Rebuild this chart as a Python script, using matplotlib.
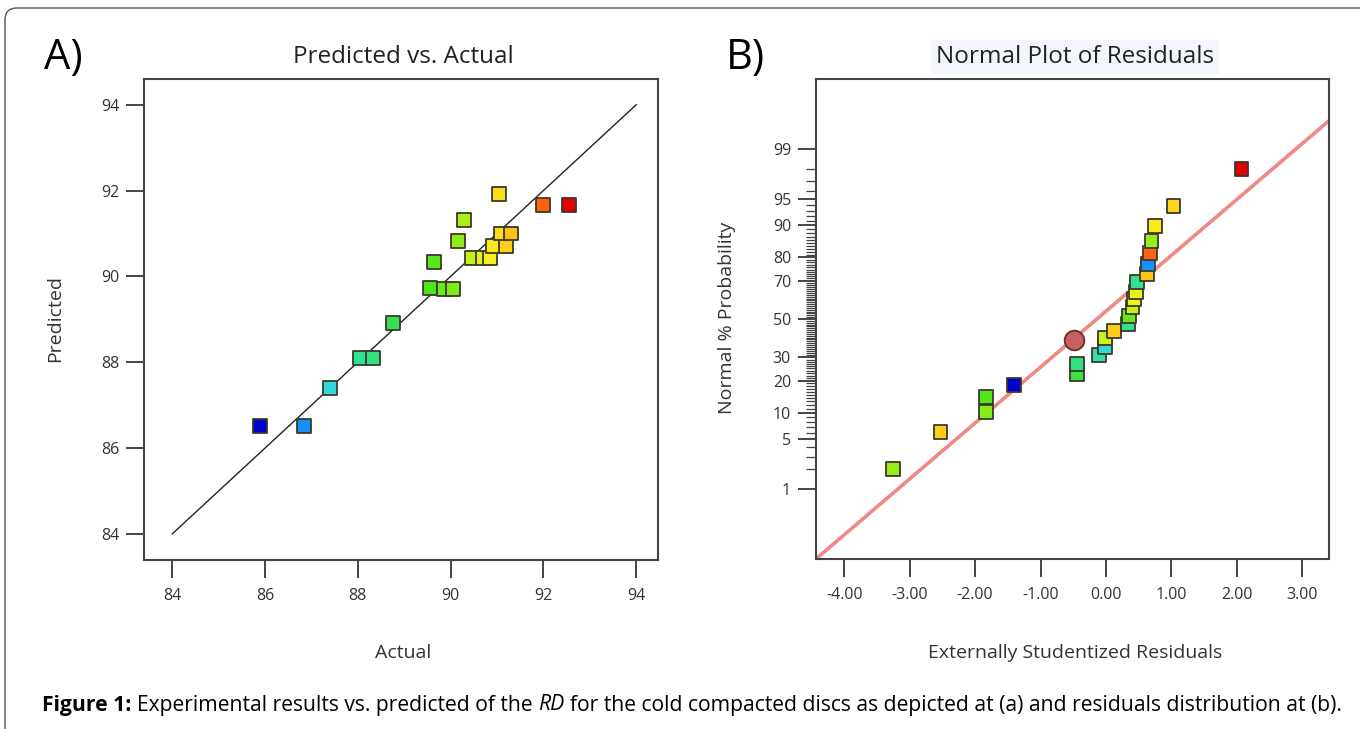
import matplotlib
matplotlib.use("Agg")
import matplotlib.pyplot as plt
import numpy as np
from statistics import NormalDist
from matplotlib.colors import LinearSegmentedColormap, Normalize
from matplotlib.path import Path
from matplotlib.patches import PathPatch
from matplotlib import font_manager

# ---------------- data ----------------
# Panel A: predicted vs actual (RD values)
actual = [85.89, 86.84, 87.40, 88.05, 88.32, 88.75, 89.55, 89.86, 90.05, 89.64, 90.15,
          90.29, 90.45, 90.69, 90.85, 90.91, 91.19, 91.08, 91.31, 91.04, 92.00, 92.55]
predicted = [86.52, 86.52, 87.39, 88.09, 88.09, 88.92, 89.72, 89.71, 89.71, 90.34, 90.83,
             91.31, 90.43, 90.43, 90.43, 90.71, 90.71, 91.00, 91.00, 91.92, 91.66, 91.66]

# Panel B: normal plot of externally studentized residuals
resid = [-3.25, -2.53, -1.84, -1.84, -1.405, -0.446, -0.446, -0.10, -0.018, -0.018, 0.125,
         0.339, 0.359, 0.405, 0.425, 0.466, 0.476, 0.624, 0.645, 0.675, 0.696, 0.747, 1.032, 2.072]
resid_prob = [2.0, 6.1, 10.2, 14.3, 18.5, 22.6, 27.0, 31.0, 35.0, 39.6, 43.7,
              47.5, 51.8, 56.3, 60.6, 64.5, 69.2, 73.1, 77.4, 81.5, 85.7, 89.9, 93.9, 98.0]
resid_rd = [90.2, 91.2, 90.1, 89.6, 85.89, 89.0, 88.3, 87.9, 87.4, 90.5, 91.2,
            88.1, 89.8, 90.5, 90.8, 90.7, 88.1, 91.3, 86.84, 92.0, 90.2, 90.9, 91.1, 92.55]
highlight_resid = [-0.487]
highlight_prob = [38.9]
line_mean = -0.139
line_sd = 1.31

a_ticks = [84, 86, 88, 90, 92, 94]
b_xticks = [-4, -3, -2, -1, 0, 1, 2, 3]
prob_major = [1, 5, 10, 20, 30, 50, 70, 80, 90, 95, 99]
prob_minor = [p for p in range(1, 100) if p not in prob_major]

caption_parts = [("Figure 1:", "bold", "normal"),
                 ("Experimental results vs. predicted of the", "normal", "normal"),
                 ("RD", "normal", "italic"),
                 ("for the cold compacted discs as depicted at (a) and residuals distribution at (b).",
                  "normal", "normal")]

# ---------------- style ----------------
names = {f.name for f in font_manager.fontManager.ttflist}
base = "Open Sans" if "Open Sans" in names else "DejaVu Sans"
plt.rcParams["font.family"] = [base, "DejaVu Sans"]

cmap = LinearSegmentedColormap.from_list("de", [
    (0.00, (0.00, 0.00, 0.80)),
    (0.14, (0.10, 0.55, 1.00)),
    (0.23, (0.20, 0.85, 0.85)),
    (0.33, (0.20, 0.88, 0.58)),
    (0.43, (0.20, 0.88, 0.32)),
    (0.55, (0.30, 0.90, 0.10)),
    (0.63, (0.52, 0.92, 0.10)),
    (0.69, (0.78, 0.95, 0.10)),
    (0.74, (0.97, 0.95, 0.10)),
    (0.80, (1.00, 0.80, 0.10)),
    (0.92, (1.00, 0.38, 0.05)),
    (1.00, (0.90, 0.00, 0.00)),
])
norm = Normalize(vmin=min(actual), vmax=max(actual))

W, H = 1360, 729
fig = plt.figure(figsize=(W / 100, H / 100), dpi=100)
fig.patch.set_facecolor("white")

spine_c = "#444444"
text_c = "#333333"


def style_axes(ax):
    for s in ax.spines.values():
        s.set_color(spine_c)
        s.set_linewidth(1.5)
    ax.tick_params(which="major", direction="out", length=13, width=1.4, color=spine_c,
                   labelsize=11.5, labelcolor=text_c)
    ax.tick_params(axis="x", which="major", pad=7)
    ax.tick_params(axis="y", which="major", pad=5)
    ax.tick_params(top=False, right=False)


# ---------------- Panel A ----------------
ax1 = fig.add_axes([144 / W, 1 - 560 / H, 514 / W, 481 / H])
ax1.plot([a_ticks[0], a_ticks[-1]], [a_ticks[0], a_ticks[-1]], color="#222222", lw=1.0, zorder=2)
ax1.scatter(actual, predicted, c=actual, cmap=cmap, norm=norm, marker="s", s=100,
            edgecolors="#3a3a2a", linewidths=1.3, zorder=3)
ax1.set_xlim(83.39, 94.47)
ax1.set_ylim(83.39, 94.6)
ax1.set_xticks(a_ticks)
ax1.set_yticks(a_ticks)
ax1.set_xticklabels([str(t) for t in a_ticks])
ax1.set_yticklabels([str(t) for t in a_ticks])
style_axes(ax1)

# ---------------- Panel B ----------------
nd = NormalDist()


def zq(p):
    return nd.inv_cdf(p / 100.0)


ax2 = fig.add_axes([816 / W, 1 - 559 / H, 513 / W, 480 / H])
xl = (-4.433, 3.41)
lx = np.array(xl)
ax2.plot(lx, (lx - line_mean) / line_sd, color="#f08884", lw=2.6, zorder=2, solid_capstyle="butt")
ax2.scatter(resid, [zq(p) for p in resid_prob], c=resid_rd, cmap=cmap, norm=norm, marker="s",
            s=100, edgecolors="#3a3a2a", linewidths=1.3, zorder=3)
ax2.scatter(highlight_resid, [zq(p) for p in highlight_prob], s=200, color="#c46262",
            edgecolors="#6b2c2c", linewidths=1.3, zorder=4)
ax2.set_xlim(*xl)
ax2.set_ylim(-3.279, 3.279)
ax2.set_xticks(b_xticks)
ax2.set_xticklabels([f"{v:.2f}" for v in b_xticks])
ax2.set_yticks([zq(p) for p in prob_major])
ax2.set_yticklabels([str(p) for p in prob_major])
ax2.set_yticks([zq(p) for p in prob_minor], minor=True)
style_axes(ax2)
ax2.tick_params(axis="y", which="minor", direction="out", length=7, width=0.9, color=spine_c)

# ---------------- texts ----------------
fig.text(403 / W, 1 - 57 / H, "Predicted vs. Actual", ha="center", va="center",
         fontsize=17.5, color="#222222")
fig.text(1075 / W, 1 - 57 / H, "Normal Plot of Residuals", ha="center", va="center",
         fontsize=17.5, color="#222222",
         bbox=dict(boxstyle="square,pad=0.2", facecolor="#f3f6fb", edgecolor="none"))
fig.text(63 / W, 1 - 58 / H, "A)", ha="center", va="center", fontsize=30, color="black")
fig.text(745 / W, 1 - 58 / H, "B)", ha="center", va="center", fontsize=30, color="black")
fig.text(55 / W, 1 - 318 / H, "Predicted", rotation=90, ha="center", va="center",
         fontsize=14, color=text_c)
fig.text(727 / W, 1 - 318 / H, "Normal % Probability", rotation=90, ha="center", va="center",
         fontsize=14, color=text_c)
fig.text(403 / W, 1 - 653 / H, "Actual", ha="center", va="center", fontsize=14, color=text_c)
fig.text(1075 / W, 1 - 653 / H, "Externally Studentized Residuals", ha="center", va="center",
         fontsize=14, color=text_c)

# outer frame (rounded top-left corner)
verts = [(5 / W, 0.0), (5 / W, 1 - 20 / H), (5 / W, 1 - 8 / H), (17 / W, 1 - 8 / H), (1.0, 1 - 8 / H)]
codes = [Path.MOVETO, Path.LINETO, Path.CURVE3, Path.CURVE3, Path.LINETO]
fig.add_artist(PathPatch(Path(verts, codes), transform=fig.transFigure, fill=False,
                         edgecolor="#555555", lw=1.0))

# caption, fitted to reference width
renderer = fig.canvas.get_renderer()
x_start, x_end, y_cap = 42, 1338, 1 - 705 / H


def place_caption(fs):
    arts = []
    tmp1 = fig.text(0, 0, "a a", fontsize=fs)
    tmp2 = fig.text(0, 0, "aa", fontsize=fs)
    sp = tmp1.get_window_extent(renderer).width - tmp2.get_window_extent(renderer).width
    tmp1.remove()
    tmp2.remove()
    x = x_start
    for txt, wt, st in caption_parts:
        t = fig.text(x / W, y_cap, txt, fontsize=fs, fontweight=wt, fontstyle=st,
                     ha="left", va="center", color="black")
        bb = t.get_window_extent(renderer)
        x = bb.x1 + sp
        arts.append(t)
    return arts, x - sp


arts, xe = place_caption(13)
fs = 13 * (x_end - x_start) / (xe - x_start)
for a in arts:
    a.remove()
place_caption(fs)

fig.savefig("out.png", dpi=100, facecolor="white")
